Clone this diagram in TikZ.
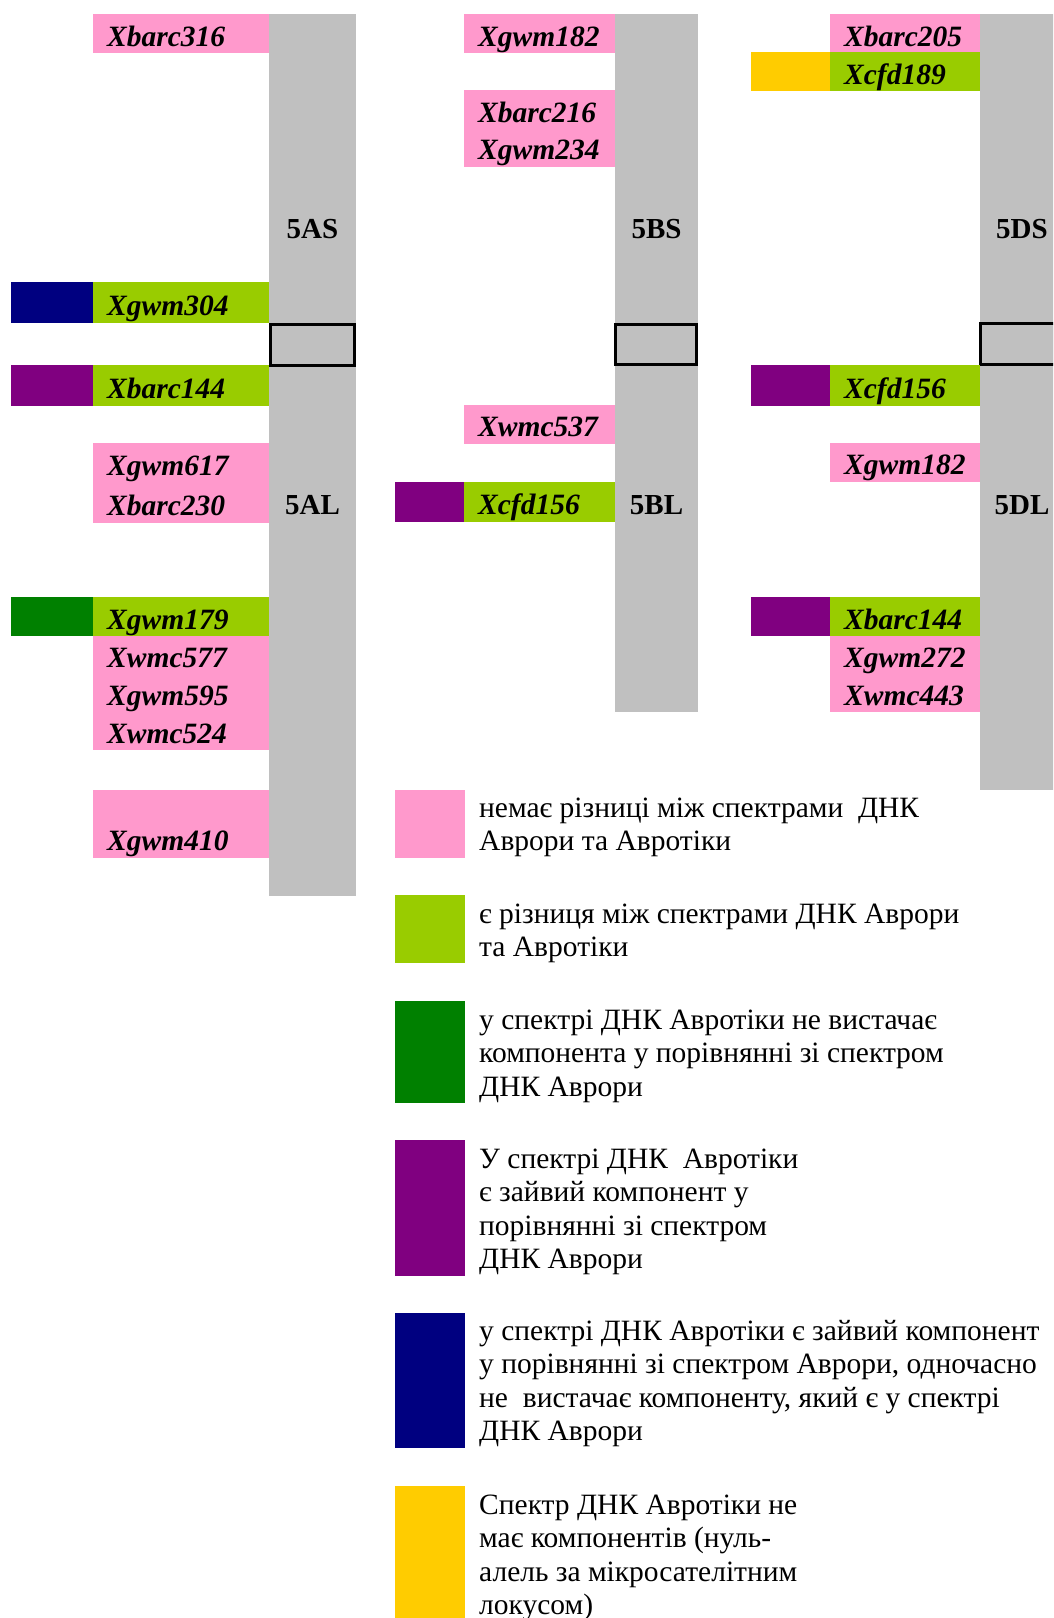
\documentclass[tikz,border=0pt]{standalone}
\usepackage{fontspec}
\setmainfont{Liberation Serif}

\definecolor{mkpink}{HTML}{FF99CC}
\definecolor{mklime}{HTML}{99CC00}
\definecolor{mkgreen}{HTML}{008000}
\definecolor{mkpurple}{HTML}{800080}
\definecolor{mknavy}{HTML}{000080}
\definecolor{mkgold}{HTML}{FFCC00}
\definecolor{chrgray}{HTML}{C0C0C0}

\begin{document}
\begin{tikzpicture}[x=1pt, y=-1pt]
	\tikzstyle{every node}=[inner sep=0pt]
	\tikzstyle{mk}=[anchor=base west, font=\fontsize{29.5}{38}\selectfont\bfseries\itshape]
	\tikzstyle{arm}=[anchor=base, font=\fontsize{29}{33}\selectfont\bfseries]
	\tikzstyle{lgd}=[anchor=base west, font=\fontsize{29.5}{33.5}\selectfont]
	\tikzstyle{cen}=[draw=black, line width=3pt, fill=chrgray]

	\useasboundingbox (0,0) rectangle (1053,1618);
	\clip (0,0) rectangle (1053,1618);

	% chromosomes
	\fill[chrgray] (269,14) rectangle (356,896);
	\fill[chrgray] (615,14) rectangle (698,712);
	\fill[chrgray] (980,14) rectangle (1066,790);
	\draw[cen] (270.5,324.5) rectangle (354.5,365.5);
	\draw[cen] (615.5,324.5) rectangle (696.5,364.5);
	\draw[cen] (980.5,323.5) rectangle (1066,364.5);

	\node[arm] (A5S) at (312.5,238) {5AS};
	\node[arm] (A5L) at (312.5,514) {5AL};
	\node[arm] (B5S) at (656.5,238) {5BS};
	\node[arm] (B5L) at (656.5,514) {5BL};
	\node[arm] (D5S) at (1022,238) {5DS};
	\node[arm] (D5L) at (1022,514) {5DL};

	% 5A
	\fill[mkpink] (93,14) rectangle (269,53);
	\node[mk] (Xbarc316) at (107,46) {Xbarc316};
	\fill[mknavy] (11,282) rectangle (93,323);
	\fill[mklime] (93,282) rectangle (269,323);
	\node[mk] (Xgwm304) at (107,315) {Xgwm304};
	\fill[mkpurple] (11,365) rectangle (93,406);
	\fill[mklime] (93,365) rectangle (269,406);
	\node[mk] (XbarcA144) at (107,398) {Xbarc144};
	\fill[mkpink] (93,443) rectangle (269,523);
	\node[mk] (Xgwm617) at (107,475) {Xgwm617};
	\node[mk] (Xbarc230) at (107,515) {Xbarc230};
	\fill[mkgreen] (11,597) rectangle (93,636);
	\fill[mklime] (93,597) rectangle (269,636);
	\node[mk] (Xgwm179) at (107,629) {Xgwm179};
	\fill[mkpink] (93,636) rectangle (269,750);
	\node[mk] (Xwmc577) at (107,667) {Xwmc577};
	\node[mk] (Xgwm595) at (107,705) {Xgwm595};
	\node[mk] (Xwmc524) at (107,743) {Xwmc524};
	\fill[mkpink] (93,790) rectangle (269,858);
	\node[mk] (Xgwm410) at (107,850) {Xgwm410};

	% 5B
	\fill[mkpink] (464,14) rectangle (615,53);
	\node[mk] (XgwmB182) at (478,46) {Xgwm182};
	\fill[mkpink] (464,90) rectangle (615,167);
	\node[mk] (Xbarc216) at (478,122) {Xbarc216};
	\node[mk] (Xgwm234) at (478,159) {Xgwm234};
	\fill[mkpink] (464,405) rectangle (615,444);
	\node[mk] (Xwmc537) at (478,436) {Xwmc537};
	\fill[mkpurple] (395,482) rectangle (464,522);
	\fill[mklime] (464,482) rectangle (615,522);
	\node[mk] (XcfdB156) at (478,514) {Xcfd156};

	% 5D
	\fill[mkpink] (830,14) rectangle (980,52);
	\node[mk] (Xbarc205) at (844,46) {Xbarc205};
	\fill[mkgold] (751,52) rectangle (830,91);
	\fill[mklime] (830,52) rectangle (980,91);
	\node[mk] (Xcfd189) at (844,84) {Xcfd189};
	\fill[mkpurple] (751,365) rectangle (830,406);
	\fill[mklime] (830,365) rectangle (980,406);
	\node[mk] (XcfdD156) at (844,398) {Xcfd156};
	\fill[mkpink] (830,443) rectangle (980,482);
	\node[mk] (XgwmD182) at (844,474) {Xgwm182};
	\fill[mkpurple] (751,597) rectangle (830,636);
	\fill[mklime] (830,597) rectangle (980,636);
	\node[mk] (XbarcD144) at (844,629) {Xbarc144};
	\fill[mkpink] (830,636) rectangle (980,712);
	\node[mk] (Xgwm272) at (844,667) {Xgwm272};
	\node[mk] (Xwmc443) at (844,705) {Xwmc443};

	% legend
	\fill[mkpink] (395,790) rectangle (465,858);
	\node[lgd] (lgdSame) at (479,817) {\begin{tabular}[t]{@{}l@{}}немає різниці між спектрами\ \ ДНК\\Аврори та Авротіки\end{tabular}};
	\fill[mklime] (395,895) rectangle (465,963);
	\node[lgd] (lgdDiff) at (479,923) {\begin{tabular}[t]{@{}l@{}}є різниця між спектрами ДНК Аврори\\та Авротіки\end{tabular}};
	\fill[mkgreen] (395,1001) rectangle (465,1103);
	\node[lgd] (lgdLack) at (479,1029) {\begin{tabular}[t]{@{}l@{}}у спектрі ДНК Авротіки не вистачає\\компонента у порівнянні зі спектром\\ДНК Аврори\end{tabular}};
	\fill[mkpurple] (395,1140) rectangle (465,1276);
	\node[lgd] (lgdExtra) at (479,1168) {\begin{tabular}[t]{@{}l@{}}У спектрі ДНК\ \ Авротіки\\є зайвий компонент у\\порівнянні зі спектром\\ДНК Аврори\end{tabular}};
	\fill[mknavy] (395,1313) rectangle (465,1448);
	\node[lgd] (lgdBoth) at (479,1340) {\begin{tabular}[t]{@{}l@{}}у спектрі ДНК Авротіки є зайвий компонент\\у порівнянні зі спектром Аврори, одночасно\\не\ \ вистачає компоненту, який є у спектрі\\ДНК Аврори\end{tabular}};
	\fill[mkgold] (395,1486) rectangle (465,1618);
	\node[lgd] (lgdNull) at (479,1514) {\begin{tabular}[t]{@{}l@{}}Спектр ДНК Авротіки не\\має компонентів (нуль-\\алель за мікросателітним\\локусом)\end{tabular}};
\end{tikzpicture}
\end{document}
